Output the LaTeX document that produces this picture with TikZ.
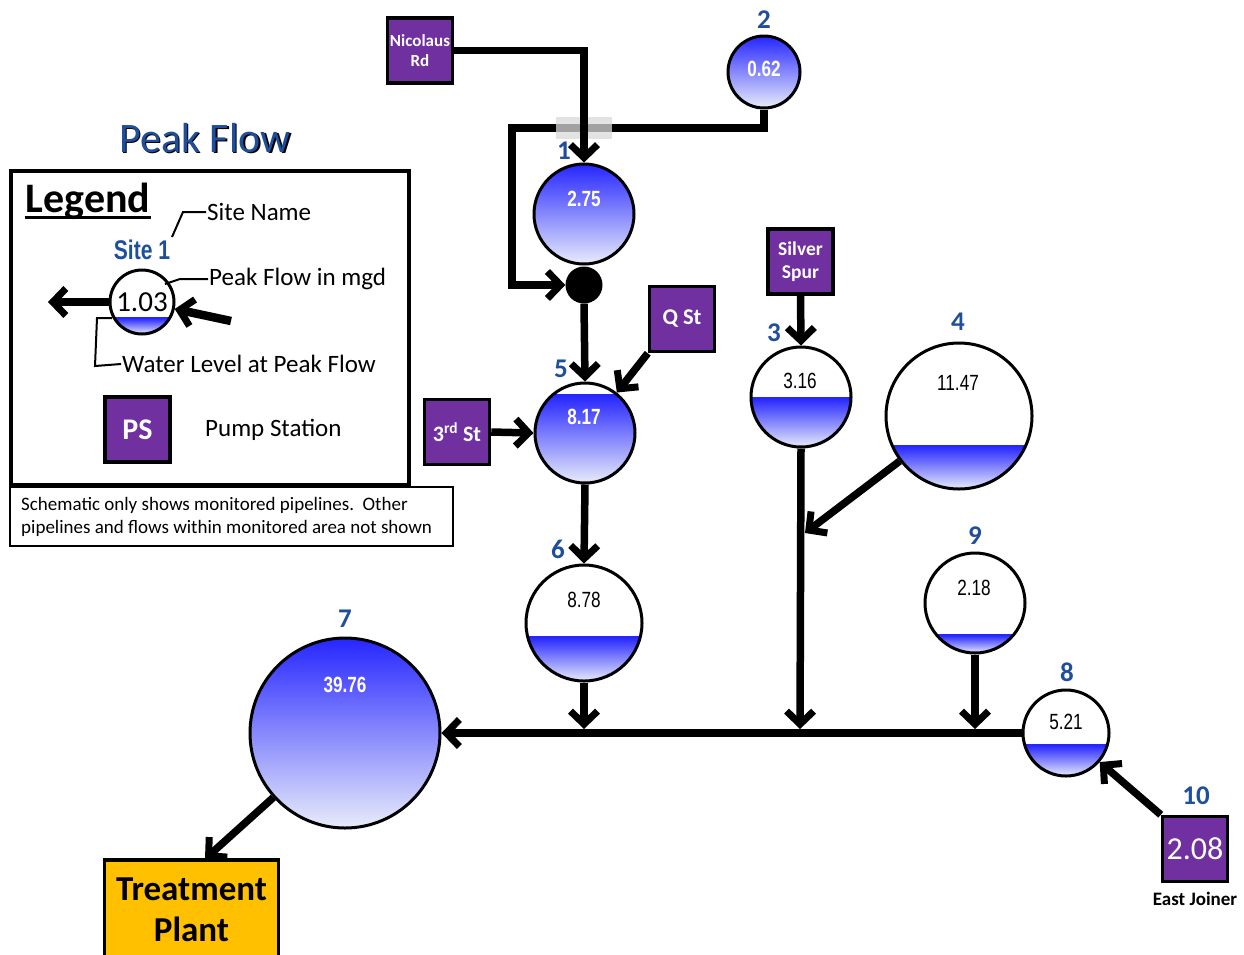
\documentclass[tikz,border=0pt]{standalone}
\usepackage{fontspec}
\setmainfont{Carlito}
\newfontfamily\numfont[FakeStretch=0.78]{Liberation Sans}
\usetikzlibrary{arrows.meta}
\definecolor{pspurple}{RGB}{112,48,160}
\definecolor{siteblue}{RGB}{31,78,154}
\definecolor{watertop}{RGB}{38,38,255}
\definecolor{waterbot}{RGB}{232,236,250}
\definecolor{plantgold}{RGB}{255,192,0}
\newcommand\fs[1]{\fontsize{#1}{#1}\selectfont}
\newcommand\tank[5]{% name, x, y, radius, water level
  \begin{scope}
    \clip (#2,#3) circle (#4pt);
    \shade [top color=watertop,bottom color=waterbot] (#2-#4,#5) rectangle (#2+#4,#3+#4);
    \draw [watertop,line width=1.5pt] (#2-#4,#5) -- (#2+#4,#5);
  \end{scope}
  \node [tank,minimum size=2*#4] (#1) at (#2,#3) {};
}

\begin{document}
\begin{tikzpicture}[x=1pt,y=-1pt,every node/.style={inner sep=1pt},
  tank/.style={circle,draw,line width=3pt,inner sep=0pt},
  pipe/.style={line width=7.5pt,-{Straight Barb[length=13pt,width=27pt,line width=7pt]}},
  callout/.style={line width=2pt},
  psbox/.style={rectangle,draw,line width=3.5pt,fill=pspurple,text=white,
    font=\bfseries,minimum width=65pt,minimum height=65pt,align=center,inner sep=2pt},
  sitelab/.style={text=siteblue,font=\fs{27}\bfseries},
  fullval/.style={text=white,font=\numfont\bfseries\fs{22}},
  val/.style={font=\numfont\fs{22}},
  legtext/.style={anchor=west,font=\fs{25}}]
  \useasboundingbox (0,0) rectangle (1244,954);

  % title and legend
  \node [text=black,font=\fs{42}] at (206.5,139.5) {Peak Flow};
  \node [text=siteblue,font=\fs{42}] (title) at (205,138) {Peak Flow};

  \draw [line width=3.5pt] (11,171) rectangle (409,485);
  \node [font=\fs{42}\bfseries] (leg) at (88,201) {Legend};
  \draw [line width=3pt] ([yshift=-5pt]leg.base west) -- ([yshift=-5pt]leg.base east);

  \node [text=siteblue,font=\numfont\bfseries\fs{27}] (lsite1) at (142,250) {Site 1};
  \tank{lc}{142}{302}{32}{318}
  \node [font=\fs{29}] (lcval) at (142,302) {1.03};
  \coordinate (lout) at (48,302);
  \coordinate (lin) at (231,321);
  \draw [pipe] (lc.west) -- (lout);
  \draw [pipe,line width=8.5pt] (lin) -- (lc);

  \node [legtext] (lname) at (206,212) {Site Name};
  \node [legtext] (lpeak) at (208,279) {Peak Flow in mgd};
  \node [legtext] (lwater) at (121,364) {Water Level at Peak Flow};
  \node [legtext] (lpump) at (204,430) {Pump Station};
  \node [psbox,font=\fs{30}\bfseries] (psleg) at (137.5,429.5) {PS};

  \coordinate (cs) at (172,237);
  \coordinate (cp) at (165,284);
  \coordinate (cw) at (112,318);
  \draw [callout] (cs) -- (183,212) -- (lname.west);
  \draw [callout] (cp) -- (180,279) -- (lpeak.west);
  \draw [callout] (cw) -- (97,318) -- (95,366) -- (lwater.west);

  \draw [line width=1.5pt] (10,487) rectangle (453,546);
  \node [anchor=west,align=left,font=\fontsize{19}{23}\selectfont] (note) at (20,516.5)
    {Schematic only shows monitored pipelines.\ \ Other\\pipelines and flows within monitored area not shown};

  % pump stations
  \node [psbox,font=\fs{17}\bfseries] (nic) at (420,50.5) {Nicolaus\\[3pt]Rd};
  \node [psbox,font=\fs{19.5}\bfseries] (silver) at (800.5,261.5) {Silver\\[4pt]Spur};
  \node [psbox,font=\fs{22.5}\bfseries] (qst) at (682,319) {Q St};
  \node [psbox,font=\fs{22}\bfseries] (rd3) at (457,432) {3\textsuperscript{rd} St};
  \node [psbox,font=\fs{32}] (ps10) at (1195,849) {2.08};
  \node [font=\fs{19}\bfseries] (east) at (1195,899) {East Joiner};
  \node [draw,line width=3.5pt,fill=plantgold,minimum width=174pt,minimum height=100pt,
    align=center,font=\fontsize{35}{41}\selectfont\bfseries] (tp) at (191.5,910) {Treatment\\Plant};

  % sites
  \tank{s2}{764}{72}{36}{36}
  \tank{s1}{584}{214}{50}{164}
  \tank{s5}{585}{433}{50}{395}
  \tank{s6}{584}{623}{58}{637}
  \tank{s3}{801}{397}{50}{398}
  \tank{s4}{959}{416}{73}{446}
  \tank{s9}{975}{603}{50}{635}
  \tank{s8}{1066}{733}{43}{745}
  \tank{s7}{345}{733}{95}{638}
  \node [circle,fill=black,minimum size=37pt,inner sep=0pt] (j) at (584,285) {};

  \node [fullval] (v2) at (764,69) {0.62};
  \node [fullval] (v1) at (584,199) {2.75};
  \node [fullval] (v5) at (584,417) {8.17};
  \node [val] (v6) at (584,600) {8.78};
  \node [val] (v3) at (800,381) {3.16};
  \node [val] (v4) at (958,383) {11.47};
  \node [val] (v9) at (974,588) {2.18};
  \node [val] (v8) at (1066,722) {5.21};
  \node [fullval] (v7) at (345,685) {39.76};

  \node [sitelab] (l2) at (764,20) {2};
  \node [sitelab] (l1) at (564,151) {1};
  \node [sitelab] (l5) at (561,369) {5};
  \node [sitelab] (l6) at (558,549) {6};
  \node [sitelab] (l3) at (774,333) {3};
  \node [sitelab] (l4) at (958,322) {4};
  \node [sitelab] (l9) at (975,536) {9};
  \node [sitelab] (l8) at (1067,672) {8};
  \node [sitelab] (l7) at (345,619) {7};
  \node [sitelab] (l10) at (1196,796) {10};

  % pipes
  \coordinate (bend) at (512,128);
  \draw [pipe] (s2.south) |- (bend) |- (j.west);
  \fill [black!15,opacity=0.75] (556,117) rectangle (612,139); % crossing
  \draw [pipe] (nic.east) -| (s1.north);
  \draw [pipe] (j.south) -- (s5.north);
  \draw [pipe] (qst.south west) -- (s5);
  \draw [pipe] (rd3.east) -- (s5.west);
  \draw [pipe] (s5.south) -- (s6.north);
  \draw [pipe] (silver.south) -- (s3.north);

  \coordinate (m6) at (584,729);
  \coordinate (m3) at (800,729);
  \coordinate (m9) at (975,729);
  \coordinate (m4) at (805,533);
  \coordinate (tpin) at (205,859);
  \draw [pipe] (s8.west) -- (s7.east);
  \draw [pipe] (s6.south) -- (m6);
  \draw [pipe] (s3.south) -- (m3);
  \draw [pipe] (s9.south) -- (m9);
  \draw [pipe] (s4) -- (m4);
  \draw [pipe] (ps10.north west) -- (s8);
  \draw [pipe] (s7) -- (tpin);

\end{tikzpicture}
\end{document}
